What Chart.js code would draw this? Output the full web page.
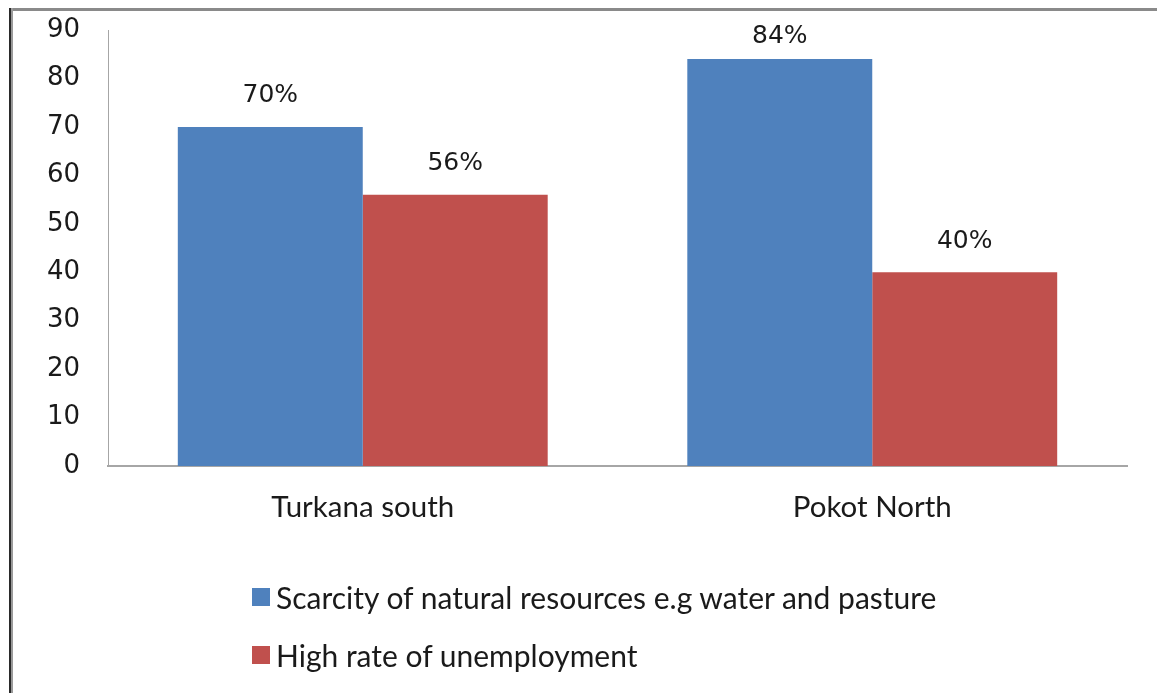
<!DOCTYPE html>
<html>
<head>
<meta charset="utf-8">
<script src="https://cdn.jsdelivr.net/npm/chart.js@4.4.1/dist/chart.umd.min.js"></script>
<style>
  html, body { margin: 0; padding: 0; background: #fff; }
  #wrap { position: relative; width: 1157px; height: 693px; overflow: hidden; }
  #frameTop { position: absolute; left: 9px; top: 8px; width: 1148px; height: 3px; background: #8a8a8a; }
  #frameLeft { position: absolute; left: 9px; top: 8px; width: 2px; height: 685px; background: #2a2a2a; }
  #frameLeft2 { position: absolute; left: 11px; top: 8px; width: 2px; height: 685px; background: #9a9a9a; }
  #chart { position: absolute; left: 0; top: 0; }
  #legend { position: absolute; left: 252px; top: 568px; font-family: Lato, "Open Sans", sans-serif; font-size: 30px; color: #1a1a1a; }
  #legend .item { display: flex; align-items: center; height: 58px; }
  #legend .sw { width: 18px; height: 18px; margin-right: 6px; }
</style>
</head>
<body>
<div id="wrap">
  <canvas id="chart" width="1157" height="693"></canvas>
  <div id="frameTop"></div>
  <div id="frameLeft"></div>
  <div id="frameLeft2"></div>
  <div id="legend"></div>
</div>
<script>
/* ---- data ---- */
const categories = ["Turkana south", "Pokot North"];
const scarcityValues = [70, 84];
const unemploymentValues = [56, 40];
const seriesNames = [
  "Scarcity of natural resources e.g water and pasture",
  "High rate of unemployment",
];
const seriesColors = ["#4F81BD", "#C0504D"];
const yTicks = [0, 10, 20, 30, 40, 50, 60, 70, 80, 90];

/* value labels above each bar, kept inside the plot area */
const barLabels = {
  id: "barLabels",
  afterDatasetsDraw(chart) {
    const ctx = chart.ctx;
    const top = chart.chartArea.top;
    ctx.save();
    ctx.font = '25px "DejaVu Sans"';
    ctx.fillStyle = "#1a1a1a";
    ctx.textAlign = "center";
    ctx.textBaseline = "middle";
    chart.data.datasets.forEach((ds, i) => {
      chart.getDatasetMeta(i).data.forEach((bar, j) => {
        const y = Math.max(bar.y - 31, top + 6);
        ctx.fillText(ds.data[j] + "%", bar.x, y);
      });
    });
    ctx.restore();
  },
};

new Chart(document.getElementById("chart"), {
  type: "bar",
  data: {
    labels: categories,
    datasets: [
      { label: seriesNames[0], data: scarcityValues, backgroundColor: seriesColors[0] },
      { label: seriesNames[1], data: unemploymentValues, backgroundColor: seriesColors[1] },
    ],
  },
  options: {
    responsive: false,
    animation: false,
    devicePixelRatio: 1,
    layout: { padding: { top: 30, right: 30, left: 0, bottom: 0 } },
    datasets: { bar: { categoryPercentage: 0.726, barPercentage: 1 } },
    plugins: { legend: { display: false }, tooltip: { enabled: false } },
    scales: {
      x: {
        grid: { display: false, drawTicks: false },
        border: { display: true, color: "#a6a6a6", width: 2 },
        ticks: { font: { family: "Lato", size: 29.5 }, color: "#1a1a1a", padding: 24 },
        afterFit: (s) => { s.height = 227; },
      },
      y: {
        min: 0,
        max: 90,
        grid: { display: false, drawTicks: false },
        border: { display: true, color: "#a6a6a6", width: 1 },
        afterBuildTicks: (s) => { s.ticks = yTicks.map((v) => ({ value: v })); },
        ticks: { font: { family: "DejaVu Sans", size: 26 }, color: "#1a1a1a", padding: 28 },
        afterFit: (s) => {
          s.width = 108;
          s.paddingTop = 0;
          s.paddingBottom = 0;
        },
      },
    },
  },
  plugins: [barLabels],
});

/* legend stacked vertically below the plot */
const legend = document.getElementById("legend");
seriesNames.forEach((name, i) => {
  const row = document.createElement("div");
  row.className = "item";
  row.innerHTML = '<span class="sw" style="background:' + seriesColors[i] + '"></span><span>' + name + "</span>";
  legend.appendChild(row);
});
</script>
</body>
</html>
